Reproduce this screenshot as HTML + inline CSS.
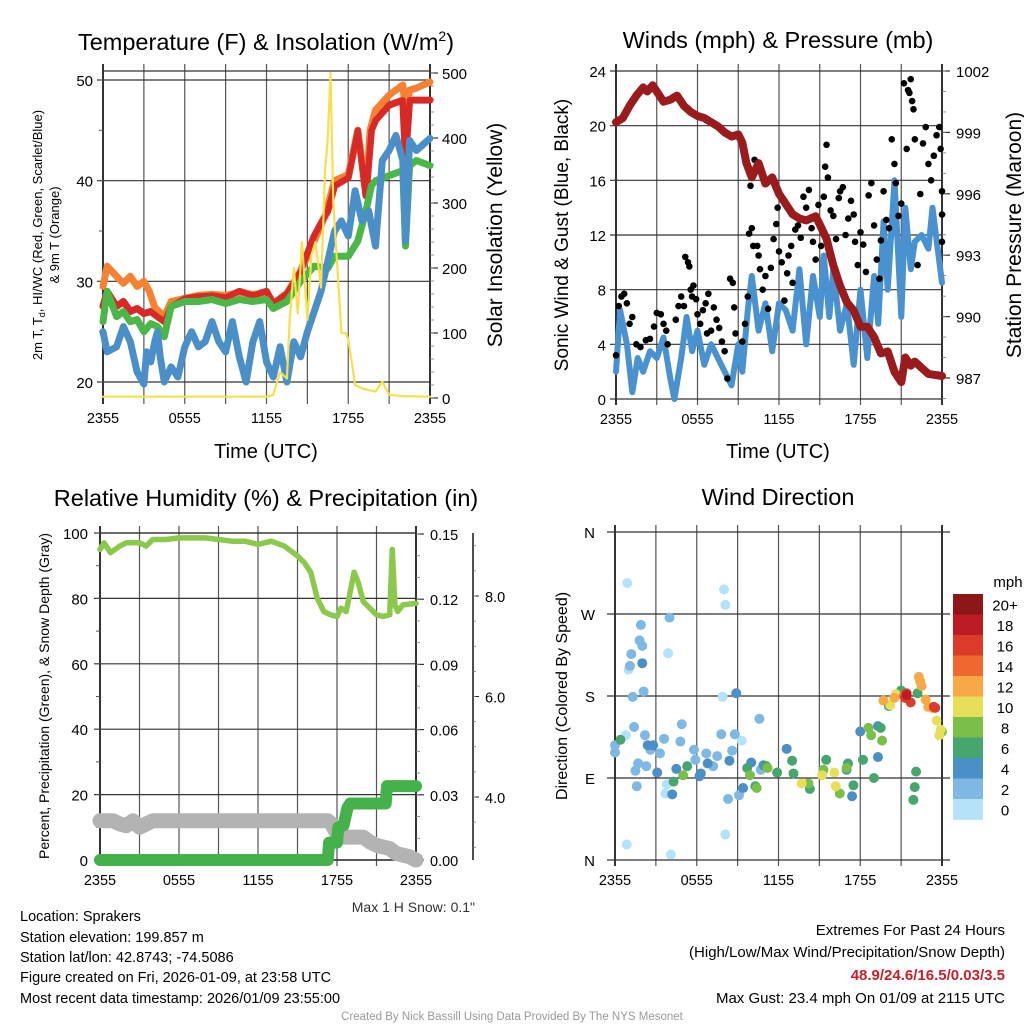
<!DOCTYPE html>
<html><head><meta charset="utf-8">
<style>
html,body{margin:0;padding:0;background:#fff;}
svg{display:block;font-family:"Liberation Sans",sans-serif;}
</style></head>
<body>
<svg id="fig" width="1024" height="1024" viewBox="0 0 1024 1024" xmlns="http://www.w3.org/2000/svg">
<rect x="0" y="0" width="1024" height="1024" fill="#fff"/>
<g id="layer"></g>
<!-- titles -->
<text x="266" y="50" font-size="23.5" text-anchor="middle">Temperature (F) &amp; Insolation (W/m<tspan font-size="14" dy="-9">2</tspan><tspan dy="9">)</tspan></text>
<text x="778" y="48" font-size="23.5" text-anchor="middle">Winds (mph) &amp; Pressure (mb)</text>
<text x="266" y="506" font-size="23.5" text-anchor="middle">Relative Humidity (%) &amp; Precipitation (in)</text>
<text x="778" y="505" font-size="23.5" text-anchor="middle">Wind Direction</text>
<!-- axis titles -->
<text transform="translate(42,235) rotate(-90)" font-size="13" text-anchor="middle">2m T, T<tspan font-size="9" dy="3">d</tspan><tspan dy="-3">, HI/WC (Red, Green, Scarlet/Blue)</tspan></text>
<text transform="translate(59,235) rotate(-90)" font-size="13" text-anchor="middle">&amp; 9m T (Orange)</text>
<text transform="translate(502,235) rotate(-90)" font-size="21" text-anchor="middle">Solar Insolation (Yellow)</text>
<text x="266" y="458" font-size="20" text-anchor="middle">Time (UTC)</text>
<text transform="translate(568,235) rotate(-90)" font-size="19" text-anchor="middle">Sonic Wind &amp; Gust (Blue, Black)</text>
<text transform="translate(1021,235) rotate(-90)" font-size="21" text-anchor="middle">Station Pressure (Maroon)</text>
<text x="778" y="458" font-size="20" text-anchor="middle">Time (UTC)</text>
<text transform="translate(49,696) rotate(-90)" font-size="14" text-anchor="middle">Percent, Precipitation (Green), &amp; Snow Depth (Gray)</text>
<text transform="translate(567,696) rotate(-90)" font-size="16" text-anchor="middle">Direction (Colored By Speed)</text>
<text x="475" y="912" font-size="14" text-anchor="end" fill="#333">Max 1 H Snow: 0.1"</text>
<!-- info -->
<g font-size="14.5">
<text x="20" y="921">Location: Sprakers</text>
<text x="20" y="942">Station elevation: 199.857 m</text>
<text x="20" y="962">Station lat/lon: 42.8743; -74.5086</text>
<text x="20" y="982">Figure created on Fri, 2026-01-09, at 23:58 UTC</text>
<text x="20" y="1003">Most recent data timestamp: 2026/01/09 23:55:00</text>
</g>
<g font-size="15" text-anchor="end">
<text x="1005" y="935">Extremes For Past 24 Hours</text>
<text x="1005" y="957">(High/Low/Max Wind/Precipitation/Snow Depth)</text>
<text x="1005" y="980" fill="#c8202a" font-weight="bold">48.9/24.6/16.5/0.03/3.5</text>
<text x="1005" y="1003">Max Gust: 23.4 mph On 01/09 at 2115 UTC</text>
</g>
<text x="512" y="1020" font-size="11.5" fill="#999" text-anchor="middle">Created By Nick Bassill Using Data Provided By The NYS Mesonet</text>
</svg>
<script>
// ---------- data ----------
const timeTickLabels = ["2355","0555","1155","1755","2355"];
const tempTicks = [20,30,40,50];
const solarTicks = [0,100,200,300,400,500];
const windTicks = [0,4,8,12,16,20,24];
const pressTicks = [987,990,993,996,999,1002];
const rhTicks = [0,20,40,60,80,100];
const precipTicks = ["0.00","0.03","0.06","0.09","0.12","0.15"];
const snowTicks = ["4.0","6.0","8.0"];
const dirTicks = ["N","E","S","W","N"];
const speedBins = ["0","2","4","6","8","10","12","14","16","18","20+"];

const hours9mT = [0,0.3,1,1.5,2,2.5,3,3.4,3.8,4.5,5,6,7,8,9,10,11,12,12.5,13.5,14.5,15.5,16.3,17,18,18.7,19.3,19.6,20,21,21.5,22,22.2,22.5,23,24];
const temp9m = [29.5,31.5,30.5,29.8,30.5,29.5,30,29,27.4,26.5,28,28.3,28.6,28.7,28.6,28.9,28.7,28.8,27.8,28.8,31,34,36.5,40,40.6,45,39,45,47,48.5,49,49.5,47,49,49.2,49.8];
const hoursT = [0,0.3,1,1.5,2,2.5,3,3.5,4,4.5,5,6,7,8,9,10,11,12,12.5,13.5,14.5,15.5,16.5,17,18,18.7,19.3,19.7,20,21,22,22.2,22.5,23,24];
const temp2m = [27.5,29,27.5,28,27,27.3,26.8,27,26.5,26,27.5,28.3,28.5,28.6,28.4,29,28.6,29,27.8,28.8,31,34.5,37,39.5,40.3,45,38.5,45,46,47.5,48,42,48,48,48];
const dewpt = [26,29,26.5,27,26,26.2,25,25.8,25.5,24.5,27.5,28,28,28.2,27.8,28.2,28,28.2,27.3,28,30,31.5,31.3,32.5,32.5,34,37,39.5,40,40.5,41,33.5,41.5,42,41.5];
const hoursHI = [0,0.3,1,1.5,2,2.5,3,3.2,3.5,3.8,4,4.2,4.5,5,5.5,6,6.5,7,7.5,8,8.5,9,9.5,10,10.5,11,11.5,12,12.5,13,13.5,14,14.5,15,15.5,16,16.5,17,17.5,18,18.5,19,19.5,20,20.5,21,21.5,22,22.2,22.5,23,24];
const heatIdx = [25,23,23.5,25.5,24,21,19.8,23,22,24,25,22.5,20,21.5,20.5,23.5,25,23.5,24,26,24,23,26,22.5,20,24,26,22,20.5,23.5,20,24,22.5,25,27,29,32,35,36,34.5,39,36,37,33.5,42,43,44.5,42,34,44,43,44.2];
const hoursSol = [0,12,12.5,13,13.5,13.7,14,14.3,14.6,15,15.3,15.6,16,16.3,16.5,16.7,16.9,17.2,17.5,17.8,18,18.3,18.5,19,19.5,20,20.5,21,22,24];
const solar = [2,2,5,40,30,120,200,130,240,120,220,240,170,350,400,500,300,200,100,100,90,50,20,15,12,10,25,5,3,2];

const hoursP = [0,0.5,1,1.5,2,2.3,2.7,3,3.5,4,4.5,5,5.5,6,6.5,7,7.5,8,8.5,9,9.3,9.6,10,10.5,11,11.5,12,12.5,13,13.5,14,14.7,15,15.5,16,16.5,17,17.5,18,18.5,19,19.5,20,20.5,21,21.3,21.7,22,22.5,23,24];
const pressure = [999.5,999.7,1000.3,1000.8,1001.2,1001,1001.3,1001,1000.5,1000.6,1000.8,1000.3,1000,999.8,999.7,999.5,999.3,999,998.8,998.9,998.5,997.5,996.8,997.5,996.5,996.8,996,995.5,995,994.8,994.7,994.9,994.5,993.8,992.5,991.5,990.7,990.3,989.5,989.5,989,988.2,988.3,987.3,986.8,988,987.6,987.8,987.5,987.2,987.1];
const hoursW = [0,0.3,0.8,1.2,1.6,2,2.5,3,3.5,4,4.3,4.8,5.2,5.6,6,6.5,7,7.5,8,8.5,9,9.3,9.7,10,10.5,11,11.5,12,12.5,13,13.5,14,14.5,15,15.3,15.7,16,16.5,17,17.5,18,18.5,19,19.3,19.7,20,20.5,21,21.3,21.7,22,22.5,23,23.3,24];
const windSpd = [2,6.5,4,0.5,3,2,3.5,3,4.5,1.5,0,3,6,3.5,5,2.5,4,3,2,1,4,2,6.5,9,5,7,3.5,7,6.5,5,9.5,4,9,6,10.5,6,9.5,5,7,2.5,8,3,9,5.5,13,8,16,6,14,9.5,11.5,12,11,14,8.5];
const gustHours = [0,0.2,0.4,0.6,0.8,1,1.2,1.5,1.8,2.2,2.5,2.8,3,3.3,3.5,3.7,3.8,4.4,4.6,4.8,5,5.1,5.3,5.4,5.5,5.6,5.7,5.9,6,6.2,6.4,6.6,6.8,6.7,7,7.2,7.4,7.6,7.8,8,8.2,8.4,8.6,8.7,8.8,9.3,9.5,9.7,9.8,9.9,10,10.1,10.2,10.4,10.5,10.6,10.8,11,11.2,11.4,11.6,11.8,11.9,12,12.2,12.4,12.6,12.7,12.9,13,13.2,13.4,13.6,13.8,14,14.2,14.4,14.5,14.7,14.9,15.1,15.3,15.4,15.5,15.6,15.8,16,16.2,16.4,16.5,16.7,16.9,17.1,17.3,17.5,17.6,17.8,18,18.2,18.4,18.6,18.8,19,19.2,19.4,19.5,19.7,19.9,20.1,20.3,20.5,20.6,20.8,21,21.2,21.4,21.5,21.6,21.7,21.8,21.9,22,22.2,22.4,22.6,22.8,23,23.2,23.4,23.6,23.8,23.9,24,24,24];
const gusts = [3.2,6.8,7.5,7.7,7,5.5,6,4,3.8,4.3,4.4,5.3,6.3,6.2,5.5,5,4,5.8,6.8,7.5,6.8,10.4,10,9.7,8,7.5,8.3,7.3,6.2,5.5,6.5,7,7.7,4.8,5,6.7,5.8,5.2,4.2,3.5,1.5,8.8,8.5,6.7,4.8,4.2,5.5,7.5,12.1,15.6,12.5,11.2,17.5,11.2,10.5,9.5,8,9,6.6,9.6,11.7,12.8,14,10.8,10,7.2,9.2,10.5,11.2,8.5,12.4,12.7,11.8,14.8,14,15.3,12.5,11.5,10.2,14.2,11.2,14.8,17,18.6,16.2,13.8,13.4,11.7,14.7,15.2,15.5,12,13.2,14.5,13.5,11.5,9.8,12.2,11.3,9.3,14.9,15.8,12.7,10.2,8.8,11.6,15.2,13.1,12.5,19,17.2,15.8,13.4,14.3,23.1,18.3,22.6,22.4,23.4,21.8,21.2,19,9.8,15,18.7,19.9,17.2,16,17.8,19.3,19.9,18.3,15.2,11.5,13.5];

const hoursRH = [0,0.3,0.8,1.5,2,3,3.5,4,5,6,7,8,9,10,11,12,13,14,15,15.5,16,16.5,17,17.5,18,18.3,18.7,19,19.3,19.6,20,20.5,21,21.5,22,22.2,22.4,22.6,23,24];
const rh = [95,97,94,96,97,97,96,98,98,98.5,98.5,98.5,98,97.5,97.5,96.5,97.5,96,93,91,88,80,76,75,74.5,77,76,82,88,85,79,77,75,74.5,75,95,78,76,78,78.5];
const hoursPcp = [0,17.3,17.4,18,18.1,18.5,18.8,19,21.7,21.8,24];
const precip = [0,0,0.008,0.008,0.015,0.016,0.024,0.026,0.026,0.034,0.034];
const hoursSnow = [0,1,1.5,2,2.5,3,3.5,4,5,17.3,17.6,18,18.5,20,20.5,21,22,22.5,23,23.5,24];
const snowDepthPct = [12,12,11,10.5,12,10,11,12,12,12,11,8,7,7,5.5,4.5,3.5,2,1.5,1,0];

const dirHours = [0.9,0.86,4.1,8,8.1,3.9,7.9,8.1,9.3,3.8,3.7,1,0.8, 1.9,1.8,2,1.2,1.1,1.3,2.1,1.4,2.2,4,4.9,4.8,3.6,3.3,2.6,1.7,1.5,1.6,2.3,5.8,5.9,6.7,7.5,7.8,8.8,8.6,8.3,9.1,10.6,7.2,10.7,0,0, 2,8.9,2.4,2.8,3.1,4.2,4.5,6.3,6.8,8.4,10,9.4,12.6,10.9,19.3,19.3,17.4,17,18,6.2, 0.4,4.3,5.3,9.7,10.3,11.9,13,14.3,15.5,17.1,18.2,19,19.5,20.1,22.1,22,21.9,17.5,13.1,11.1,22.2,21, 5,9.9,11.2,14.2,15.3,16.5,17,18.6,18.8,19.6,10.4,24, 13.7,15.2,16.1,16.2,20.2,20.6,23.6,23.8,23.9, 19.7,20.5,22.4,22.3,22.5,22.8,23,23.3, 21.2, 21.4,21.3,21.7,23.4,23.5, 21.4];
const dirDeg = [304,17,6,297,280,227,179,28,131,83,73,209,137, 258,241,235,226,213,179,185,146,137,266,149,130,133,117,121,106,98,81,103,121,110,117,114,138,138,120,67,71,155,103,99,126,118, 216,183,126,126,96,72,100,95,106,109,107,79,122,104,113,147,70,99,141,92, 132,86,103,101,81,96,109,78,110,106,110,90,145,169,97,80,66,82,95,103,183,186, 93,93,101,84,99,73,101,145,137,131,79,141, 84,93,96,81,170,182,153,137,143, 175,178,196,201,191,176,168,167, 180, 183,178,173,168,167, 181];
const dirSpeed = [0,0,0,0,0,0,0,0,0,0,0,0,0, 2,2,2,2,2,2,2,2,2,2,2,2,2,2,2,2,2,2,2,2,2,2,2,2,2,2,2,2,2,2,2,2,2, 4,4,4,4,4,4,4,4,4,4,4,4,4,4,4,4,4,4,4,4, 6,6,6,6,6,6,6,6,6,6,6,6,6,6,6,6,6,6,6,6,6,6, 8,8,8,8,8,8,8,8,8,8,8,8, 10,10,10,10,10,10,10,10,10, 12,12,12,12,12,12,12,12, 14, 16,16,16,16,16, 18];

// ---------- drawing ----------
const NS = "http://www.w3.org/2000/svg";
const layer = document.getElementById('layer');
function mk(tag, attrs, parent){
  const e = document.createElementNS(NS, tag);
  for (const k in attrs) e.setAttribute(k, attrs[k]);
  (parent||layer).appendChild(e);
  return e;
}
function linScale(d0,d1,r0,r1){ return v => r0 + (v-d0)*(r1-r0)/(d1-d0); }
function pathFrom(xs, ys, xf, yf){
  let d = "";
  for (let i=0;i<xs.length;i++) d += (i?"L":"M") + xf(xs[i]).toFixed(1) + "," + yf(ys[i]).toFixed(1);
  return d;
}
function frame(L,R,T,B,nameBase){
  const g = mk('g',{});
  
  
  const x = linScale(0,24,L,R);
  for (let i=0;i<=8;i++){
    const xx = x(i*3);
    const ln = mk('line',{x1:xx,x2:xx,y1:T-7,y2:B+6,stroke:(i==0||i==8)?'#000':'#555','stroke-width':(i==0||i==8)?1.6:1.2},g);
    
    
  }
  timeTickLabels.forEach((t,i)=>{
    const tx = mk('text',{x:x(i*6),y:B+25,'font-size':14.5,'text-anchor':'middle'},g);
    tx.textContent = t;
    
    
  });
  return {x,g};
}
function hline(g,L,R,y,name,w){
  const ln = mk('line',{x1:L,x2:R,y1:y,y2:y,stroke:'#333','stroke-width':w||1.2},g);
  
  
}
function label(g,x,y,txt,anchor,name,size){
  const t = mk('text',{x:x,y:y,'font-size':size||15,'text-anchor':anchor},g);
  t.textContent = txt;
  
  
}
function series(d, color, width, name, opacity){
  const p = mk('path',{d:d,fill:'none',stroke:color,'stroke-width':width,'stroke-linejoin':'round','stroke-linecap':'round'});
  if (opacity) p.setAttribute('opacity', opacity);
  
  
  return p;
}

// ---- Temperature panel ----
(function(){
  const L=103,R=430,T=71,B=398;
  const f = frame(L,R,T,B,'temp');
  const y = linScale(20,50,382,80);
  const ys = linScale(0,500,398,73);
  hline(f.g,L,R,T,'temp-top-border',1.2);
  tempTicks.forEach(v=>{ hline(f.g,L-6,R,y(v),'temp-hgrid'); label(f.g,L-10,y(v)+6,String(v),'end','temp-y-tick-label',15); });
  for (let v=20; v<=50; v+=5){ mk('line',{x1:L-4,x2:L,y1:y(v),y2:y(v),stroke:'#555'},f.g); }
  solarTicks.forEach(v=>{ mk('line',{x1:R,x2:R+8,y1:ys(v),y2:ys(v),stroke:'#333','stroke-width':1.2},f.g); label(f.g,R+12,ys(v)+6,String(v),'start','solar-y-tick-label',15); });
  for (let v=0; v<=500; v+=20){ mk('line',{x1:R,x2:R+4,y1:ys(v),y2:ys(v),stroke:'#777','stroke-width':0.8},f.g); }
  series(pathFrom(hoursT,temp2m,f.x,y),'#d72a27',7,'temp-2m-line');
  series(pathFrom(hours9mT,temp9m,f.x,y),'#f58232',7,'temp-9m-line');
  series(pathFrom(hoursT,temp2m,f.x,y),'#d72a27',6,'temp-2m-line-top');
  series(pathFrom(hoursT,dewpt,f.x,y),'#4bb749',7,'dewpoint-line');
  series(pathFrom(hoursHI,heatIdx,f.x,y),'#4a8fc8',7,'windchill-line');
  series(pathFrom(hoursSol,solar,f.x,ys),'#f9df4a',2.2,'solar-line');
})();

// ---- Wind panel ----
(function(){
  const L=616,R=942,T=71,B=399;
  const f = frame(L,R,T,B,'wind');
  const y = linScale(0,24,399,71);
  const yp = linScale(987,1002,378,71);
  windTicks.forEach(v=>{ hline(f.g,L-6,R,y(v),'wind-hgrid'); label(f.g,L-10,y(v)+6,String(v),'end','wind-y-tick-label',15); });
  pressTicks.forEach(v=>{ mk('line',{x1:R,x2:R+8,y1:yp(v),y2:yp(v),stroke:'#333','stroke-width':1.2},f.g); label(f.g,R+14,yp(v)+6,String(v),'start','pressure-y-tick-label',15); });
  for (let v=986; v<=1002; v+=1){ mk('line',{x1:R,x2:R+4,y1:yp(v),y2:yp(v),stroke:'#777','stroke-width':0.8},f.g); }
  series(pathFrom(hoursW,windSpd,f.x,y),'#4a92cf',6,'sonic-wind-line');
  const gg = mk('g',{fill:'#000'});
  
  
  for (let i=0;i<gusts.length;i++){
    const c = mk('circle',{cx:f.x(gustHours[i]),cy:y(gusts[i]),r:3.3},gg);
    
    
  }
  series(pathFrom(hoursP,pressure,f.x,yp),'#9a1b1e',8,'pressure-line');
})();

// ---- RH panel ----
(function(){
  const L=100,R=416,T=533,B=860;
  const f = frame(L,R,T,B,'rh');
  const y = linScale(0,100,860,533);
  const yp = linScale(0,0.15,860,534);
  hline(f.g,L,R,T,'rh-top-border',1.2);
  hline(f.g,L,R,B,'rh-bottom-border',1.6);
  rhTicks.forEach(v=>{ hline(f.g,L-6,R,y(v),'rh-hgrid'); label(f.g,L-12,y(v)+6,String(v),'end','rh-y-tick-label',15); });
  for (let v=0; v<=100; v+=10){ mk('line',{x1:L-4,x2:L,y1:y(v),y2:y(v),stroke:'#555'},f.g); }
  precipTicks.forEach((t,i)=>{ const v=i*0.03; mk('line',{x1:R,x2:R+8,y1:yp(v),y2:yp(v),stroke:'#333','stroke-width':1.2},f.g); label(f.g,R+14,yp(v)+6,t,'start','precip-y-tick-label',14.5); });
  for (let v=0; v<=0.15; v+=0.01){ mk('line',{x1:R,x2:R+4,y1:yp(v),y2:yp(v),stroke:'#777','stroke-width':0.8},f.g); }
  const ysn = linScale(4,8,797,596);
  mk('line',{x1:473,x2:473,y1:533,y2:860,stroke:'#222','stroke-width':1.6},f.g);
  snowTicks.forEach(t=>{ const v=parseFloat(t); mk('line',{x1:473,x2:479,y1:ysn(v),y2:ysn(v),stroke:'#222'},f.g); label(f.g,485,ysn(v)+6,t,'start','snow-y-tick-label',14.5); });
  for (let v=2; v<=14; v+=0.5){ const yy=ysn(v); if(yy>=533&&yy<=860) mk('line',{x1:473,x2:476,y1:yy,y2:yy,stroke:'#777','stroke-width':0.8},f.g); }
  series(pathFrom(hoursSnow,snowDepthPct,f.x,y),'#b3b3b3',15,'snow-depth-line');
  series(pathFrom(hoursPcp,precip,f.x,yp),'#44b14a',12,'precip-line');
  series(pathFrom(hoursRH,rh,f.x,y),'#8cc84b',5.5,'rh-line');
})();

// ---- Direction panel ----
(function(){
  const L=615,R=942,T=532,B=860;
  const f = frame(L,R,T,B,'direction');
  const y = linScale(0,360,860,532);
  dirTicks.forEach((t,i)=>{ const v=[0,90,180,270,360][i]; hline(f.g,L-8,R+8,y(v),'direction-hgrid'); label(f.g,L-20,y(v)+6,t,'end','direction-y-tick-label',15); });
  const colors = ['#b5e2f8','#7eb8e3','#4a8fc6','#47a56f','#7bbf49','#e7df5a','#f6a945','#ee6830','#dc3b2c','#bc1c26','#8d1619'];
  const gd = mk('g',{});
  
  
  for (let i=0;i<dirHours.length;i++){
    const ci = Math.min(10, Math.round(dirSpeed[i]/2));
    const c = mk('circle',{cx:f.x(dirHours[i]),cy:y(dirDeg[i]),r:5,fill:colors[ci]},gd);
    
    
  }
  const cb = mk('g',{});
  
  
  const top=594, h=20.5;
  for (let i=0;i<speedBins.length;i++){
    const idx = speedBins.length-1-i;
    const r = mk('rect',{x:953,y:top+i*h,width:30,height:h+0.3,fill:colors[idx]},cb);
    
    
    label(cb,1005,top+i*h+h/2+6,speedBins[idx],'middle','colorbar-label',15);
  }
  label(cb,1008,587,'mph','middle','colorbar-unit',15);
})();
</script>
</body></html>
